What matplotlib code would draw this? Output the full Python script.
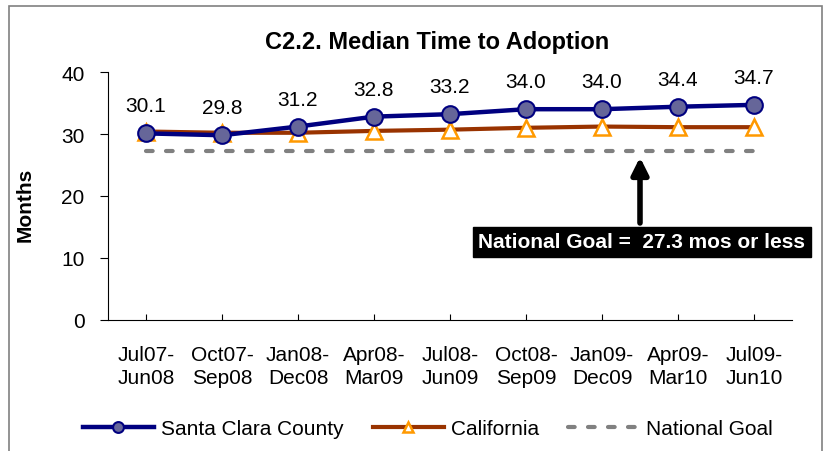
import matplotlib
matplotlib.use("Agg")
import matplotlib.pyplot as plt
from matplotlib.patches import Rectangle

plt.rcParams['font.family'] = ['Liberation Sans', 'DejaVu Sans']

categories = ["Jul07-\nJun08", "Oct07-\nSep08", "Jan08-\nDec08", "Apr08-\nMar09", "Jul08-\nJun09",
              "Oct08-\nSep09", "Jan09-\nDec09", "Apr09-\nMar10", "Jul09-\nJun10"]
santa_clara = [30.1, 29.8, 31.2, 32.8, 33.2, 34.0, 34.0, 34.4, 34.7]
california = [30.4, 30.2, 30.2, 30.5, 30.7, 31.0, 31.2, 31.1, 31.1]
national_goal = [27.3] * 9
yticks = [0, 10, 20, 30, 40]

fig = plt.figure(figsize=(8.26, 4.52), dpi=100)
ax = fig.add_axes([108/826, 1-321/452, (792-108)/826, (321-73)/452])

x = list(range(len(categories)))
ax.plot(x, national_goal, color='#808080', lw=3, dashes=(1.6, 3.2), dash_capstyle='round',
        label='National Goal', zorder=2)
ax.plot(x, california, color='#993300', lw=3, marker='^', ms=12, mfc='white', mec='#FF9900',
        mew=1.8, label='California', zorder=3)
ax.plot(x, santa_clara, color='#000080', lw=3.2, marker='o', ms=12, mfc='#666699', mec='#000080',
        mew=1.5, label='Santa Clara County', zorder=4)

for xi, v in zip(x, santa_clara):
    ax.annotate(f"{v:.1f}", (xi, v), xytext=(0, 13), textcoords='offset points',
                ha='center', va='bottom', fontsize=15)

ax.set_xlim(-0.5, len(categories) - 0.5)
ax.set_ylim(0, 40)
ax.set_yticks(yticks)
ax.set_xticks(x)
ax.set_xticklabels(categories, fontsize=15, linespacing=1.25)
ax.tick_params(axis='x', direction='in', length=4, pad=18)
ax.tick_params(axis='y', direction='out', length=6, labelsize=15, pad=11)
for s in ['top', 'right']:
    ax.spines[s].set_visible(False)
ax.set_ylabel('Months', fontsize=15, fontweight='bold')
ax.yaxis.set_label_coords(-0.107, 0.468)

fig.text(437/826, 1-42/452, 'C2.2. Median Time to Adoption', ha='center', va='center',
         fontsize=17, fontweight='bold')

# arrow and annotation
ax.annotate('', xy=(6.5, 27.3 - 0.6), xytext=(6.5, 15.2),
            arrowprops=dict(arrowstyle='-|>,head_width=0.5,head_length=1.0', color='black', lw=4))
ax.text(642/826, 1-243/452, 'National Goal =  27.3 mos or less', transform=fig.transFigure,
        ha='center', va='center', fontsize=15, fontweight='bold', color='white',
        bbox=dict(boxstyle='square,pad=0.25', fc='black', ec='black'))

# outer border
fig.patches.append(Rectangle((9/826, -0.02), (822-9)/826, 1-7/452+0.02, transform=fig.transFigure,
                             fill=False, ec='#808080', lw=1.2))

handles, labels = ax.get_legend_handles_labels()
order = [2, 1, 0]
leg = fig.legend([handles[i] for i in order], [labels[i] for i in order], loc='center',
                 bbox_to_anchor=(428/826, 1-430/452), ncol=3, frameon=False, fontsize=15,
                 handlelength=3.4, columnspacing=1.4, handletextpad=0.35, markerscale=0.65)

fig.savefig('out.png', dpi=100)
